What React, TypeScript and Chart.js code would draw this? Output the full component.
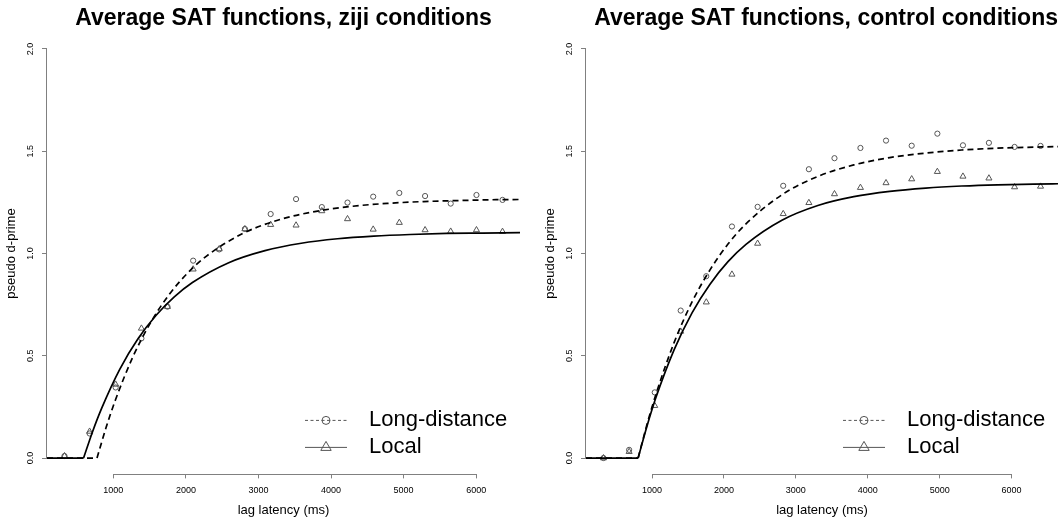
import { useEffect, useRef } from "react";
import { Chart, registerables, type ChartConfiguration, type Plugin } from "chart.js";
import { drawPoint } from "chart.js/helpers";

Chart.register(...registerables);

const FONT = "'Liberation Sans', Arial, Helvetica, sans-serif";
const AXIS_GRAY = "#808080";
const MARK_GRAY = "#555555";

const yTicks = [0, 0.5, 1, 1.5, 2];
const xTicks = [1000, 2000, 3000, 4000, 5000, 6000];
const seriesLabels = ["Long-distance", "Local"];

// ziji conditions
const zijiLags = [327, 673, 1032, 1387, 1746, 2100, 2459, 2813, 3168, 3518, 3873, 4227, 4581, 4941, 5296, 5649, 6004, 6363];
const zijiLongObs = [0.01, 0.12, 0.345, 0.585, 0.74, 0.965, 1.02, 1.12, 1.193, 1.266, 1.227, 1.249, 1.278, 1.296, 1.281, 1.244, 1.286, 1.262];
const zijiLocalObs = [0.01, 0.13, 0.36, 0.634, 0.74, 0.923, 1.022, 1.12, 1.141, 1.138, 1.208, 1.169, 1.118, 1.151, 1.115, 1.108, 1.115, 1.107];
const zijiLongFitLags = [86, 775, 900, 1025, 1275, 1525, 1775, 2025, 2275, 2775, 3275, 3775, 4275, 4775, 5275, 5775, 6275, 6604];
const zijiLongFit = [0, 0, 0.149, 0.28, 0.499, 0.669, 0.802, 0.905, 0.985, 1.096, 1.164, 1.205, 1.23, 1.245, 1.254, 1.259, 1.263, 1.264];
const zijiLocalFitLags = [86, 590, 715, 840, 1090, 1340, 1590, 1840, 2090, 2590, 3090, 3590, 4090, 4590, 5090, 5590, 6090, 6604];
const zijiLocalFit = [0, 0, 0.13, 0.244, 0.435, 0.583, 0.698, 0.788, 0.858, 0.955, 1.014, 1.05, 1.072, 1.085, 1.093, 1.098, 1.1, 1.102];
const zijiXRange = [86, 6604];

// control conditions
const controlLags = [324, 681, 1037, 1398, 1754, 2111, 2468, 2824, 3181, 3537, 3898, 4254, 4611, 4968, 5324, 5685, 6042, 6403];
const controlLongObs = [0.0, 0.04, 0.321, 0.721, 0.889, 1.132, 1.228, 1.331, 1.412, 1.466, 1.516, 1.552, 1.527, 1.586, 1.529, 1.541, 1.521, 1.526];
const controlLocalObs = [0.0, 0.031, 0.256, 0.619, 0.762, 0.898, 1.049, 1.194, 1.248, 1.291, 1.322, 1.345, 1.364, 1.4, 1.377, 1.368, 1.325, 1.328];
const controlFitLags = [81, 806, 931, 1056, 1306, 1556, 1806, 2056, 2306, 2806, 3306, 3806, 4306, 4806, 5306, 5806, 6306, 6646];
const controlLongFit = [0, 0, 0.166, 0.314, 0.564, 0.763, 0.92, 1.046, 1.145, 1.287, 1.377, 1.433, 1.469, 1.491, 1.506, 1.515, 1.52, 1.523];
const controlLocalFit = [0, 0, 0.158, 0.298, 0.529, 0.71, 0.85, 0.96, 1.045, 1.163, 1.235, 1.278, 1.304, 1.32, 1.33, 1.336, 1.339, 1.341];
const controlXRange = [81, 6646];

Chart.defaults.font.family = FONT;
Chart.defaults.color = "#000";

// the fit is flat until the intercept, then rises: split it so the kink stays sharp
function splitFit(lags: number[], values: number[]) {
  const points = lags.map((x, i) => ({ x, y: values[i] }));
  const onset = values.findIndex((v) => v > 0) - 1;
  return { flat: points.slice(0, onset + 1), rise: points.slice(onset) };
}

const axisLines: Plugin<"scatter"> = {
  id: "axisLines",
  afterDraw(chart) {
    const { ctx, chartArea, scales } = chart;
    const x = scales.x;
    const y = scales.y;
    ctx.save();
    ctx.strokeStyle = AXIS_GRAY;
    ctx.lineWidth = 1;
    ctx.beginPath();
    const by = Math.round(chartArea.bottom) + 0.5;
    ctx.moveTo(x.getPixelForValue(xTicks[0]), by);
    ctx.lineTo(x.getPixelForValue(xTicks[xTicks.length - 1]), by);
    const lx = Math.round(chartArea.left) - 0.5;
    ctx.moveTo(lx, y.getPixelForValue(yTicks[0]));
    ctx.lineTo(lx, y.getPixelForValue(yTicks[yTicks.length - 1]));
    ctx.stroke();
    ctx.restore();
  },
};

const satLegend: Plugin<"scatter"> = {
  id: "satLegend",
  afterDraw(chart) {
    const { ctx, chartArea } = chart;
    const styles = ["circle", "triangle"] as const;
    const radii = [4, 6];
    ctx.save();
    seriesLabels.forEach((label, i) => {
      const y = chartArea.bottom - 54 + i * 27;
      ctx.strokeStyle = MARK_GRAY;
      ctx.lineWidth = 1;
      ctx.setLineDash(i === 0 ? [3, 2.5] : []);
      ctx.beginPath();
      ctx.moveTo(chartArea.right - 215, y);
      ctx.lineTo(chartArea.right - 173, y);
      ctx.stroke();
      ctx.setLineDash([]);
      ctx.fillStyle = "rgba(0,0,0,0)";
      drawPoint(
        ctx,
        { pointStyle: styles[i], radius: radii[i], rotation: 0, borderWidth: 1 },
        chartArea.right - 194,
        y,
      );
      ctx.fillStyle = "#000";
      ctx.font = `22px ${FONT}`;
      ctx.textAlign = "left";
      ctx.textBaseline = "middle";
      ctx.fillText(label, chartArea.right - 151, y);
    });
    ctx.restore();
  },
};

type PanelProps = {
  title: string;
  titleAlign: "center" | "end";
  lags: number[];
  longObs: number[];
  localObs: number[];
  longFitLags: number[];
  longFit: number[];
  localFitLags: number[];
  localFit: number[];
  xRange: number[];
  left: number;
  width: number;
};

function SatPanel(props: PanelProps) {
  const canvasRef = useRef<HTMLCanvasElement | null>(null);

  useEffect(() => {
    const canvas = canvasRef.current;
    if (!canvas) return;

    const longFit = splitFit(props.longFitLags, props.longFit);
    const localFit = splitFit(props.localFitLags, props.localFit);
    const dashed = {
      showLine: true,
      borderColor: "#000",
      borderWidth: 1.7,
      borderDash: [6, 4],
      pointRadius: 0,
      cubicInterpolationMode: "monotone" as const,
    };
    const solid = { ...dashed, borderDash: [] as number[] };

    const configuration: ChartConfiguration<"scatter"> = {
      type: "scatter",
      data: {
        datasets: [
          { label: "Long-distance fit", data: longFit.flat, ...dashed },
          { label: "Long-distance fit", data: longFit.rise, ...dashed },
          { label: "Local fit", data: localFit.flat, ...solid },
          { label: "Local fit", data: localFit.rise, ...solid },
          {
            label: seriesLabels[0],
            data: props.lags.map((x, i) => ({ x, y: props.longObs[i] })),
            pointStyle: "circle",
            pointRadius: 2.6,
            pointBorderWidth: 1,
            pointBorderColor: MARK_GRAY,
            pointBackgroundColor: "rgba(0,0,0,0)",
          },
          {
            label: seriesLabels[1],
            data: props.lags.map((x, i) => ({ x, y: props.localObs[i] })),
            pointStyle: "triangle",
            pointRadius: 3.5,
            pointBorderWidth: 1,
            pointBorderColor: MARK_GRAY,
            pointBackgroundColor: "rgba(0,0,0,0)",
          },
        ],
      },
      options: {
        responsive: false,
        animation: false,
        events: [],
        layout: { padding: { left: 0, top: 0, bottom: 0, right: props.width - 520 } },
        plugins: {
          legend: { display: false },
          tooltip: { enabled: false },
          title: {
            display: true,
            text: props.title,
            fullSize: false,
            align: props.titleAlign,
            color: "#000",
            font: { size: 23, weight: "bold", lineHeight: 1 },
            padding: { top: 7.5, bottom: 2.1 },
          },
        },
        scales: {
          x: {
            type: "linear",
            min: props.xRange[0],
            max: props.xRange[1],
            afterBuildTicks: (axis) => {
              axis.ticks = xTicks.map((value) => ({ value }));
            },
            afterFit: (axis) => {
              axis.height = 46.6;
            },
            border: { display: false },
            grid: { drawOnChartArea: false, drawTicks: true, tickLength: 4, color: AXIS_GRAY },
            ticks: {
              autoSkip: false,
              maxRotation: 0,
              padding: 6.5,
              color: "#000",
              font: { size: 9 },
              callback: (value) => String(value),
            },
            title: {
              display: true,
              text: "lag latency (ms)",
              color: "#000",
              font: { size: 13 },
              padding: { top: 0, bottom: 3 },
            },
          },
          y: {
            type: "linear",
            min: -0.08,
            max: 2.08,
            afterBuildTicks: (axis) => {
              axis.ticks = yTicks.map((value) => ({ value }));
            },
            afterFit: (axis) => {
              axis.width = 47;
            },
            border: { display: false },
            grid: { drawOnChartArea: false, drawTicks: true, tickLength: 5, color: AXIS_GRAY },
            ticks: {
              autoSkip: false,
              minRotation: 90,
              maxRotation: 90,
              crossAlign: "center",
              padding: 5,
              color: "#000",
              font: { size: 9 },
              callback: (value) => Number(value).toFixed(1),
            },
            title: {
              display: true,
              text: "pseudo d-prime",
              color: "#000",
              font: { size: 13 },
              padding: { top: 4, bottom: 0 },
            },
          },
        },
      },
      plugins: [axisLines, satLegend],
    };

    const chart = new Chart(canvas, configuration);
    return () => {
      chart.destroy();
    };
  }, [props]);

  return (
    <canvas
      ref={canvasRef}
      width={props.width}
      height={521}
      style={{ position: "absolute", left: props.left, top: 0 }}
      aria-label={props.title}
      role="img"
    />
  );
}

const zijiPanel: PanelProps = {
  title: "Average SAT functions, ziji conditions",
  titleAlign: "center",
  lags: zijiLags,
  longObs: zijiLongObs,
  localObs: zijiLocalObs,
  longFitLags: zijiLongFitLags,
  longFit: zijiLongFit,
  localFitLags: zijiLocalFitLags,
  localFit: zijiLocalFit,
  xRange: zijiXRange,
  left: 0,
  width: 531,
};

const controlPanel: PanelProps = {
  title: "Average SAT functions, control conditions",
  titleAlign: "end",
  lags: controlLags,
  longObs: controlLongObs,
  localObs: controlLocalObs,
  longFitLags: controlFitLags,
  longFit: controlLongFit,
  localFitLags: controlFitLags,
  localFit: controlLocalFit,
  xRange: controlXRange,
  left: 539,
  width: 524,
};

export default function App() {
  useEffect(() => {
    document.body.style.margin = "0";
  }, []);

  return (
    <div style={{ position: "fixed", left: 0, top: 0, width: 1063, height: 521, background: "#fff" }}>
      <SatPanel {...zijiPanel} />
      <SatPanel {...controlPanel} />
    </div>
  );
}
